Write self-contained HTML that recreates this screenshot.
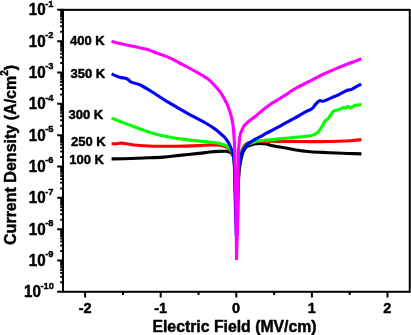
<!DOCTYPE html><html><head><meta charset="utf-8"><title>J-E plot</title>
<style>html,body{margin:0;padding:0;background:#fff;overflow:hidden}svg{display:block}text{font-family:"Liberation Sans",sans-serif;font-weight:bold;fill:#000;stroke:#000;stroke-width:0.45px;stroke-linejoin:round}</style></head><body>
<svg width="411" height="335" viewBox="0 0 411 335">
<rect width="411" height="335" fill="#fff"/>
<path d="M111.60,158.90 C113.75,158.87 119.12,158.85 124.50,158.70 C129.88,158.55 137.42,158.27 143.90,158.00 C150.38,157.73 157.47,157.53 163.40,157.10 C169.33,156.67 173.58,156.02 179.50,155.40 C185.42,154.78 193.82,153.97 198.90,153.40 C203.98,152.83 206.75,152.33 210.00,152.00 C213.25,151.67 215.72,151.52 218.40,151.40 C221.08,151.28 224.08,151.10 226.10,151.30 C228.12,151.50 229.30,151.77 230.50,152.60 C231.70,153.43 232.63,154.57 233.30,156.30 C233.97,158.03 234.22,159.88 234.50,163.00 C234.78,166.12 234.87,171.33 235.00,175.00 C235.13,178.67 235.25,183.33 235.30,185.00" fill="none" stroke="#000" stroke-width="3.1" stroke-linejoin="round" stroke-linecap="butt"/>
<path d="M238.40,182.00 C238.53,180.17 238.85,174.33 239.20,171.00 C239.55,167.67 240.05,164.50 240.50,162.00 C240.95,159.50 241.45,157.70 241.90,156.00 C242.35,154.30 242.35,153.37 243.20,151.80 C244.05,150.23 245.17,147.90 247.00,146.60 C248.83,145.30 251.98,144.52 254.20,144.00 C256.42,143.48 258.27,143.50 260.30,143.50 C262.33,143.50 264.37,143.62 266.40,144.00 C268.43,144.38 270.47,145.33 272.50,145.80 C274.53,146.27 276.35,146.43 278.60,146.80 C280.85,147.17 283.75,147.60 286.00,148.00 C288.25,148.40 290.07,148.82 292.10,149.20 C294.13,149.58 296.17,149.98 298.20,150.30 C300.23,150.62 302.28,150.87 304.30,151.10 C306.32,151.33 307.27,151.48 310.30,151.70 C313.33,151.92 318.22,152.18 322.50,152.40 C326.78,152.62 331.75,152.82 336.00,153.00 C340.25,153.18 343.77,153.35 348.00,153.50 C352.23,153.65 359.17,153.83 361.40,153.90" fill="none" stroke="#000" stroke-width="3.1" stroke-linejoin="round" stroke-linecap="butt"/>
<path d="M111.60,143.70 C112.45,143.72 115.05,143.90 116.70,143.80 C118.35,143.70 118.58,142.90 121.50,143.10 C124.42,143.30 128.85,144.48 134.20,145.00 C139.55,145.52 147.12,146.00 153.60,146.20 C160.08,146.40 167.87,146.22 173.10,146.20 C178.33,146.18 180.70,146.20 185.00,146.10 C189.30,146.00 194.40,145.80 198.90,145.60 C203.40,145.40 208.48,144.95 212.00,144.90 C215.52,144.85 217.83,145.03 220.00,145.30 C222.17,145.57 223.42,145.88 225.00,146.50 C226.58,147.12 228.23,147.75 229.50,149.00 C230.77,150.25 231.82,152.00 232.60,154.00 C233.38,156.00 233.82,157.50 234.20,161.00 C234.58,164.50 234.72,170.17 234.90,175.00 C235.08,179.83 235.23,187.50 235.30,190.00" fill="none" stroke="#ff0000" stroke-width="3.1" stroke-linejoin="round" stroke-linecap="butt"/>
<path d="M238.00,190.00 C238.07,187.50 238.23,179.50 238.40,175.00 C238.57,170.50 238.73,166.25 239.00,163.00 C239.27,159.75 239.53,157.58 240.00,155.50 C240.47,153.42 241.12,152.05 241.80,150.50 C242.48,148.95 243.18,147.38 244.10,146.20 C245.02,145.02 245.98,144.12 247.30,143.40 C248.62,142.68 249.88,142.27 252.00,141.90 C254.12,141.53 257.13,141.32 260.00,141.20 C262.87,141.08 265.20,141.17 269.20,141.20 C273.20,141.23 279.13,141.35 284.00,141.40 C288.87,141.45 292.40,141.47 298.40,141.50 C304.40,141.53 313.25,141.63 320.00,141.60 C326.75,141.57 333.80,141.45 338.90,141.30 C344.00,141.15 346.85,140.98 350.60,140.70 C354.35,140.42 359.60,139.78 361.40,139.60" fill="none" stroke="#ff0000" stroke-width="3.1" stroke-linejoin="round" stroke-linecap="butt"/>
<path d="M111.60,118.10 C113.75,118.93 120.73,121.65 124.50,123.10 C128.27,124.55 130.97,125.58 134.20,126.80 C137.43,128.02 140.67,129.28 143.90,130.40 C147.13,131.52 150.35,132.55 153.60,133.50 C156.85,134.45 160.15,135.40 163.40,136.10 C166.65,136.80 169.50,137.15 173.10,137.70 C176.70,138.25 180.70,138.83 185.00,139.40 C189.30,139.97 194.97,140.67 198.90,141.10 C202.83,141.53 205.35,141.65 208.60,142.00 C211.85,142.35 215.80,142.73 218.40,143.20 C221.00,143.67 222.58,144.17 224.20,144.80 C225.82,145.43 226.97,146.05 228.10,147.00 C229.23,147.95 230.18,149.17 231.00,150.50 C231.82,151.83 232.47,153.08 233.00,155.00 C233.53,156.92 233.90,158.67 234.20,162.00 C234.50,165.33 234.62,169.50 234.80,175.00 C234.98,180.50 235.22,191.67 235.30,195.00" fill="none" stroke="#00ff00" stroke-width="3.1" stroke-linejoin="round" stroke-linecap="butt"/>
<path d="M237.90,195.00 C237.97,191.67 238.12,180.33 238.30,175.00 C238.48,169.67 238.70,166.17 239.00,163.00 C239.30,159.83 239.63,158.00 240.10,156.00 C240.57,154.00 241.18,152.43 241.80,151.00 C242.42,149.57 242.93,148.47 243.80,147.40 C244.67,146.33 245.68,145.33 247.00,144.60 C248.32,143.87 250.50,143.43 251.70,143.00 C252.90,142.57 252.77,142.37 254.20,142.00 C255.63,141.63 258.27,141.12 260.30,140.80 C262.33,140.48 264.37,140.30 266.40,140.10 C268.43,139.90 270.47,139.80 272.50,139.60 C274.53,139.40 275.92,139.17 278.60,138.90 C281.28,138.63 285.30,138.32 288.60,138.00 C291.90,137.68 295.03,137.33 298.40,137.00 C301.77,136.67 306.07,136.45 308.80,136.00 C311.53,135.55 313.15,135.07 314.80,134.30 C316.45,133.53 317.43,132.82 318.70,131.40 C319.97,129.98 321.32,127.57 322.40,125.80 C323.48,124.03 324.23,122.00 325.20,120.80 C326.17,119.60 326.90,120.13 328.20,118.60 C329.50,117.07 331.70,112.97 333.00,111.60 C334.30,110.23 335.02,110.73 336.00,110.40 C336.98,110.07 337.93,109.98 338.90,109.60 C339.87,109.22 340.98,108.43 341.80,108.10 C342.62,107.77 343.15,107.60 343.80,107.60 C344.45,107.60 345.02,108.28 345.70,108.10 C346.38,107.92 347.12,106.52 347.90,106.50 C348.68,106.48 349.62,107.95 350.40,108.00 C351.18,108.05 351.83,107.27 352.60,106.80 C353.37,106.33 354.10,105.48 355.00,105.20 C355.90,104.92 356.93,105.25 358.00,105.10 C359.07,104.95 360.83,104.43 361.40,104.30" fill="none" stroke="#00ff00" stroke-width="3.1" stroke-linejoin="round" stroke-linecap="butt"/>
<path d="M111.60,73.90 C112.93,74.45 117.05,76.40 119.60,77.20 C122.15,78.00 124.95,77.87 126.90,78.70 C128.85,79.53 129.23,81.23 131.30,82.20 C133.37,83.17 136.38,83.22 139.30,84.50 C142.22,85.78 146.18,88.35 148.80,89.90 C151.42,91.45 151.93,91.85 155.00,93.80 C158.07,95.75 163.15,99.12 167.20,101.60 C171.25,104.08 175.25,106.35 179.30,108.70 C183.35,111.05 187.27,113.40 191.50,115.70 C195.73,118.00 200.88,120.35 204.70,122.50 C208.52,124.65 211.97,126.93 214.40,128.60 C216.83,130.27 217.68,131.13 219.30,132.50 C220.92,133.87 222.65,135.25 224.10,136.80 C225.55,138.35 226.92,140.10 228.00,141.80 C229.08,143.50 229.87,145.30 230.60,147.00 C231.33,148.70 231.90,150.33 232.40,152.00 C232.90,153.67 233.28,155.00 233.60,157.00 C233.92,159.00 234.13,161.00 234.30,164.00 C234.47,167.00 234.45,169.00 234.60,175.00 C234.75,181.00 235.00,192.50 235.20,200.00 C235.40,207.50 235.62,214.00 235.80,220.00 C235.98,226.00 236.22,233.33 236.30,236.00" fill="none" stroke="#0000ff" stroke-width="3.1" stroke-linejoin="round" stroke-linecap="butt"/>
<path d="M237.00,236.00 C237.08,233.33 237.33,226.00 237.50,220.00 C237.67,214.00 237.87,207.00 238.00,200.00 C238.13,193.00 238.18,183.33 238.30,178.00 C238.42,172.67 238.52,170.58 238.70,168.00 C238.88,165.42 239.13,164.17 239.40,162.50 C239.67,160.83 239.90,159.58 240.30,158.00 C240.70,156.42 241.28,154.42 241.80,153.00 C242.32,151.58 242.60,150.80 243.40,149.50 C244.20,148.20 244.80,146.80 246.60,145.20 C248.40,143.60 251.92,141.32 254.20,139.90 C256.48,138.48 258.27,137.82 260.30,136.70 C262.33,135.58 264.37,134.30 266.40,133.20 C268.43,132.10 270.47,131.17 272.50,130.10 C274.53,129.03 276.35,128.03 278.60,126.80 C280.85,125.57 282.88,124.38 286.00,122.70 C289.12,121.02 294.20,118.43 297.30,116.70 C300.40,114.97 302.17,113.63 304.60,112.30 C307.03,110.97 310.08,110.02 311.90,108.70 C313.72,107.38 314.22,105.75 315.50,104.40 C316.78,103.05 318.38,101.12 319.60,100.60 C320.82,100.08 321.32,101.55 322.80,101.30 C324.28,101.05 326.53,99.90 328.50,99.10 C330.47,98.30 332.87,97.23 334.60,96.50 C336.33,95.77 336.88,95.70 338.90,94.70 C340.92,93.70 344.68,91.35 346.70,90.50 C348.72,89.65 349.62,90.12 351.00,89.60 C352.38,89.08 353.30,88.32 355.00,87.40 C356.70,86.48 360.17,84.65 361.20,84.10" fill="none" stroke="#0000ff" stroke-width="3.1" stroke-linejoin="round" stroke-linecap="butt"/>
<path d="M111.50,41.30 C112.85,41.65 115.82,42.53 119.60,43.40 C123.38,44.27 129.33,45.42 134.20,46.50 C139.07,47.58 145.15,48.87 148.80,49.90 C152.45,50.93 154.23,51.98 156.10,52.70 C157.97,53.42 157.73,53.33 160.00,54.20 C162.27,55.07 166.45,56.43 169.70,57.90 C172.95,59.37 176.25,61.32 179.50,63.00 C182.75,64.68 185.97,66.27 189.20,68.00 C192.43,69.73 195.67,71.48 198.90,73.40 C202.13,75.32 206.00,77.50 208.60,79.50 C211.20,81.50 212.55,83.28 214.50,85.40 C216.45,87.52 218.52,89.70 220.30,92.20 C222.08,94.70 223.90,98.02 225.20,100.40 C226.50,102.78 227.13,103.98 228.10,106.50 C229.07,109.02 230.18,112.38 231.00,115.50 C231.82,118.62 232.52,121.97 233.00,125.20 C233.48,128.43 233.65,131.67 233.90,134.90 C234.15,138.13 234.35,141.75 234.50,144.60 C234.65,147.45 234.73,149.43 234.80,152.00 C234.88,154.57 234.83,154.50 234.95,160.00 C235.07,165.50 235.35,177.50 235.50,185.00 C235.65,192.50 235.72,197.50 235.85,205.00 C235.97,212.50 236.14,220.87 236.25,230.00 C236.36,239.13 236.46,254.83 236.50,259.80" fill="none" stroke="#ff00ff" stroke-width="3.1" stroke-linejoin="round" stroke-linecap="butt"/>
<path d="M236.50,259.80 C236.65,254.83 237.18,239.13 237.40,230.00 C237.62,220.87 237.73,212.50 237.85,205.00 C237.97,197.50 238.02,192.50 238.10,185.00 C238.18,177.50 238.23,165.83 238.30,160.00 C238.38,154.17 238.37,153.33 238.55,150.00 C238.73,146.67 239.09,142.67 239.40,140.00 C239.71,137.33 240.03,135.53 240.40,134.00 C240.77,132.47 241.00,132.15 241.60,130.80 C242.20,129.45 242.98,127.32 244.00,125.90 C245.02,124.48 246.00,123.75 247.70,122.30 C249.40,120.85 252.10,118.88 254.20,117.20 C256.30,115.52 258.27,113.85 260.30,112.20 C262.33,110.55 264.37,108.85 266.40,107.30 C268.43,105.75 270.47,104.23 272.50,102.90 C274.53,101.57 276.33,100.68 278.60,99.30 C280.87,97.92 283.83,96.08 286.10,94.60 C288.37,93.12 290.18,91.68 292.20,90.40 C294.22,89.12 296.18,87.97 298.20,86.90 C300.22,85.83 302.27,85.02 304.30,84.00 C306.33,82.98 308.37,81.87 310.40,80.80 C312.43,79.73 314.47,78.65 316.50,77.60 C318.53,76.55 319.98,75.72 322.60,74.50 C325.22,73.28 328.58,71.85 332.20,70.30 C335.82,68.75 339.43,67.12 344.30,65.20 C349.17,63.28 358.55,59.87 361.40,58.80" fill="none" stroke="#ff00ff" stroke-width="3.1" stroke-linejoin="round" stroke-linecap="butt"/>
<path d="M57.2,9.85 H63.0 M60.2,31.75 H63.0 M60.2,26.23 H63.0 M60.2,22.32 H63.0 M60.2,19.28 H63.0 M60.2,16.80 H63.0 M60.2,14.70 H63.0 M60.2,12.89 H63.0 M60.2,11.28 H63.0 M57.2,41.18 H63.0 M60.2,63.07 H63.0 M60.2,57.56 H63.0 M60.2,53.64 H63.0 M60.2,50.61 H63.0 M60.2,48.13 H63.0 M60.2,46.03 H63.0 M60.2,44.21 H63.0 M60.2,42.61 H63.0 M57.2,72.51 H63.0 M60.2,94.40 H63.0 M60.2,88.89 H63.0 M60.2,84.97 H63.0 M60.2,81.94 H63.0 M60.2,79.46 H63.0 M60.2,77.36 H63.0 M60.2,75.54 H63.0 M60.2,73.94 H63.0 M57.2,103.83 H63.0 M60.2,125.73 H63.0 M60.2,120.21 H63.0 M60.2,116.30 H63.0 M60.2,113.26 H63.0 M60.2,110.78 H63.0 M60.2,108.69 H63.0 M60.2,106.87 H63.0 M60.2,105.27 H63.0 M57.2,135.16 H63.0 M60.2,157.06 H63.0 M60.2,151.54 H63.0 M60.2,147.63 H63.0 M60.2,144.59 H63.0 M60.2,142.11 H63.0 M60.2,140.01 H63.0 M60.2,138.20 H63.0 M60.2,136.59 H63.0 M57.2,166.49 H63.0 M60.2,188.39 H63.0 M60.2,182.87 H63.0 M60.2,178.96 H63.0 M60.2,175.92 H63.0 M60.2,173.44 H63.0 M60.2,171.34 H63.0 M60.2,169.52 H63.0 M60.2,167.92 H63.0 M57.2,197.82 H63.0 M60.2,219.71 H63.0 M60.2,214.20 H63.0 M60.2,210.28 H63.0 M60.2,207.25 H63.0 M60.2,204.77 H63.0 M60.2,202.67 H63.0 M60.2,200.85 H63.0 M60.2,199.25 H63.0 M57.2,229.14 H63.0 M60.2,251.04 H63.0 M60.2,245.53 H63.0 M60.2,241.61 H63.0 M60.2,238.58 H63.0 M60.2,236.09 H63.0 M60.2,234.00 H63.0 M60.2,232.18 H63.0 M60.2,230.58 H63.0 M57.2,260.47 H63.0 M60.2,282.37 H63.0 M60.2,276.85 H63.0 M60.2,272.94 H63.0 M60.2,269.90 H63.0 M60.2,267.42 H63.0 M60.2,265.32 H63.0 M60.2,263.51 H63.0 M60.2,261.91 H63.0 M57.2,291.80 H63.0" stroke="#000" stroke-width="2" fill="none"/>
<path d="M85.10,291.8 V297.4 M160.70,291.8 V297.4 M236.30,291.8 V297.4 M311.90,291.8 V297.4 M387.50,291.8 V297.4 M122.90,291.8 V295 M198.50,291.8 V295 M274.10,291.8 V295 M349.70,291.8 V295" stroke="#000" stroke-width="2" fill="none"/>
<rect x="63.00" y="9.85" width="346.75" height="281.95" fill="none" stroke="#000" stroke-width="2"/>
<text transform="translate(28.7,15.25) scale(0.95,1)" font-size="16">10<tspan font-size="9.8" dy="-8.5" dx="-0.4">-1</tspan></text>
<text transform="translate(28.7,46.58) scale(0.95,1)" font-size="16">10<tspan font-size="9.8" dy="-8.5" dx="-0.4">-2</tspan></text>
<text transform="translate(28.7,77.91) scale(0.95,1)" font-size="16">10<tspan font-size="9.8" dy="-8.5" dx="-0.4">-3</tspan></text>
<text transform="translate(28.7,109.23) scale(0.95,1)" font-size="16">10<tspan font-size="9.8" dy="-8.5" dx="-0.4">-4</tspan></text>
<text transform="translate(28.7,140.56) scale(0.95,1)" font-size="16">10<tspan font-size="9.8" dy="-8.5" dx="-0.4">-5</tspan></text>
<text transform="translate(28.7,171.89) scale(0.95,1)" font-size="16">10<tspan font-size="9.8" dy="-8.5" dx="-0.4">-6</tspan></text>
<text transform="translate(28.7,203.22) scale(0.95,1)" font-size="16">10<tspan font-size="9.8" dy="-8.5" dx="-0.4">-7</tspan></text>
<text transform="translate(28.7,234.54) scale(0.95,1)" font-size="16">10<tspan font-size="9.8" dy="-8.5" dx="-0.4">-8</tspan></text>
<text transform="translate(28.7,265.87) scale(0.95,1)" font-size="16">10<tspan font-size="9.8" dy="-8.5" dx="-0.4">-9</tspan></text>
<text transform="translate(24.0,297.20) scale(0.95,1)" font-size="16">10<tspan font-size="9.8" dy="-8.5" dx="-0.4">-10</tspan></text>
<text x="85.1" y="313" font-size="14.5" text-anchor="middle">-2</text>
<text x="160.7" y="313" font-size="14.5" text-anchor="middle">-1</text>
<text x="236.1" y="313" font-size="14.5" text-anchor="middle">0</text>
<text x="311.7" y="313" font-size="14.5" text-anchor="middle">1</text>
<text x="387.3" y="313" font-size="14.5" text-anchor="middle">2</text>
<text x="234.5" y="331.5" font-size="15.8" text-anchor="middle">Electric Field (MV/cm)</text>
<text transform="translate(16.1,154.9) rotate(-90)" font-size="16.05" text-anchor="middle">Current Density (A/cm<tspan font-size="10" dy="-8">2</tspan><tspan dy="8">)</tspan></text>
<text x="70.0" y="45.0" font-size="13">400 K</text>
<text x="70.5" y="78.4" font-size="13">350 K</text>
<text x="68.5" y="119.0" font-size="13">300 K</text>
<text x="71.0" y="146.2" font-size="13">250 K</text>
<text x="69.3" y="164.0" font-size="13">100 K</text>
</svg></body></html>
